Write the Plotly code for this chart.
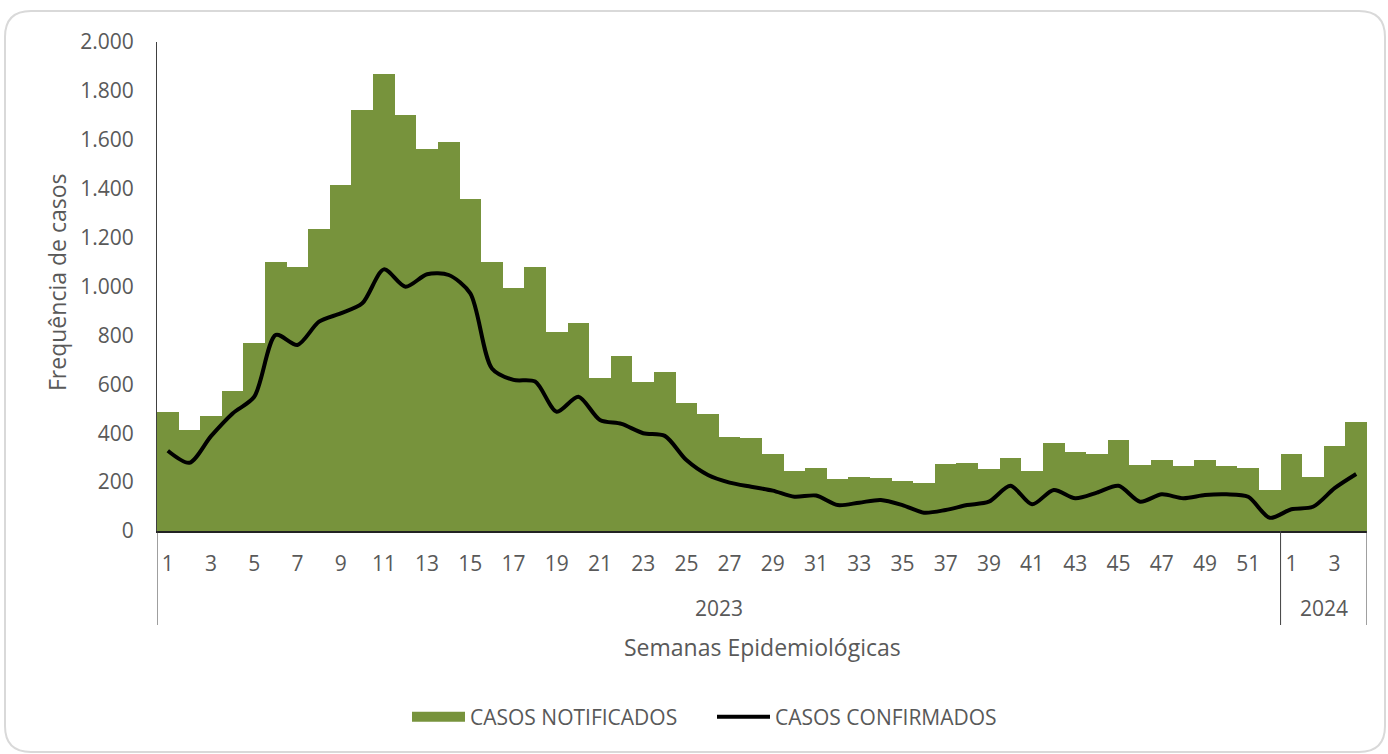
import plotly.graph_objects as go

# ---- data ----
weeks = list(range(1, 53)) + [1, 2, 3, 4]
years = ["2023"] * 52 + ["2024"] * 4
notificados = [488, 413, 472, 573, 768, 1099, 1078, 1234, 1414, 1722,
               1869, 1701, 1561, 1590, 1359, 1099, 994, 1081, 815, 849,
               624, 714, 609, 652, 522, 477, 383, 379, 315, 247,
               258, 211, 222, 217, 206, 195, 273, 279, 252, 300,
               247, 361, 324, 316, 373, 269, 289, 267, 289, 265,
               258, 169, 315, 222, 346, 447]
confirmados = [328, 279, 388, 481, 549, 802, 761, 856, 890, 931,
               1070, 999, 1050, 1047, 972, 665, 618, 611, 488, 549,
               454, 438, 400, 389, 290, 229, 198, 181, 165, 140,
               145, 106, 116, 127, 106, 75, 86, 106, 120, 185,
               109, 168, 134, 157, 185, 120, 150, 134, 147, 150,
               140, 54, 89, 99, 175, 233]
y_ticks = list(range(0, 2001, 200))

# ---- layout geometry ----
W, H = 1388, 754
ML, MR, MT, MB = 157, 21, 42, 223
PW, PH = W - ML - MR, H - MT - MB

def px2paper(px, py):
    return (px - ML) / PW, (H - MB - py) / PH

FONT = "Open Sans"
GRAY = "#595959"
GREEN = "#77933C"

idx = list(range(1, len(weeks) + 1))

fig = go.Figure()
fig.add_trace(go.Bar(x=idx, y=notificados, name="CASOS NOTIFICADOS",
                     showlegend=False,
                     marker=dict(color=GREEN, line=dict(width=0))))
# legend proxy for the bar series (wide rectangle like the original)
fig.add_trace(go.Scatter(x=[None], y=[None], name="CASOS NOTIFICADOS",
                         mode="lines", line=dict(color=GREEN, width=15)))
fig.add_trace(go.Scatter(x=idx, y=confirmados, name="CASOS CONFIRMADOS",
                         mode="lines", line=dict(color="black", width=4,
                                                 shape="spline", smoothing=0.8)))

# tick labels: odd weeks
tickvals = [i for i, w in zip(idx, weeks) if w % 2 == 1]
ticktext = [str(w) for w in weeks if w % 2 == 1]

shapes = []
annotations = []
# year groups
groups = []
for i, yv in zip(idx, years):
    if groups and groups[-1][0] == yv:
        groups[-1][2] = i
    else:
        groups.append([yv, i, i])
_, ybot = px2paper(0, 625)
_, yyear = px2paper(0, 608)
for g in groups:
    yv, a, b = g
    annotations.append(dict(x=(a + b) / 2, y=yyear, xref="x", yref="paper",
                            xanchor="center", yanchor="middle",
                            text=yv, showarrow=False,
                            font=dict(family=FONT, size=21, color=GRAY)))
bounds = [0.5] + [g[2] + 0.5 for g in groups]
for bx in bounds:
    shapes.append(dict(type="line", xref="x", yref="paper", x0=bx, x1=bx,
                       y0=0, y1=ybot, line=dict(color="#404040", width=1)))

# axis titles
xt, yt = px2paper(762, 647)
annotations.append(dict(x=0.5, y=yt, xref="paper", yref="paper",
                        xanchor="center", yanchor="middle",
                        text="Semanas Epidemiológicas", showarrow=False,
                        font=dict(family=FONT, size=23, color=GRAY)))
xy, yy = px2paper(57, 283)
annotations.append(dict(x=xy, y=yy, xref="paper", yref="paper",
                        xanchor="center", yanchor="middle",
                        text="Frequência de casos", showarrow=False, textangle=-90,
                        font=dict(family=FONT, size=23, color=GRAY)))

# rounded outer border
x0, y0 = px2paper(5, 11)
x1, y1 = px2paper(1385, 752)
rx, ry = 26 / PW, 26 / PH
path = (f"M {x0+rx},{y0} L {x1-rx},{y0} Q {x1},{y0} {x1},{y0-ry} "
        f"L {x1},{y1+ry} Q {x1},{y1} {x1-rx},{y1} "
        f"L {x0+rx},{y1} Q {x0},{y1} {x0},{y1+ry} "
        f"L {x0},{y0-ry} Q {x0},{y0} {x0+rx},{y0} Z")
shapes.append(dict(type="path", xref="paper", yref="paper", path=path,
                   line=dict(color="#D9D9D9", width=2), layer="below"))

lx, ly = px2paper(712, 717)

fig.update_layout(
    width=W, height=H,
    margin=dict(l=ML, r=MR, t=MT, b=MB, pad=0),
    paper_bgcolor="white", plot_bgcolor="white",
    separators=",.",
    bargap=0,
    font=dict(family=FONT, color=GRAY, size=21),
    showlegend=True,
    legend=dict(orientation="h", x=lx, y=ly, xanchor="center", yanchor="middle",
                font=dict(family=FONT, size=21, color=GRAY),
                itemwidth=53, entrywidth=237, traceorder="normal"),
    xaxis=dict(range=[0.5, len(idx) + 0.5], tickvals=tickvals, ticktext=ticktext,
               showgrid=False, zeroline=False, showline=True,
               linecolor="#222222", linewidth=1.5, ticks="",
               ticklabelstandoff=13, tickangle=0,
               tickfont=dict(family=FONT, size=21, color=GRAY)),
    yaxis=dict(range=[0, 2000], tickvals=y_ticks, tickformat=",d",
               showgrid=False, zeroline=False, showline=True,
               linecolor="#404040", linewidth=1, ticks="",
               ticklabelstandoff=18,
               tickfont=dict(family=FONT, size=21, color=GRAY)),
    shapes=shapes,
    annotations=annotations,
)

fig.write_html("out.html", config={"displayModeBar": False},
               post_script="document.body.style.margin='0';")
